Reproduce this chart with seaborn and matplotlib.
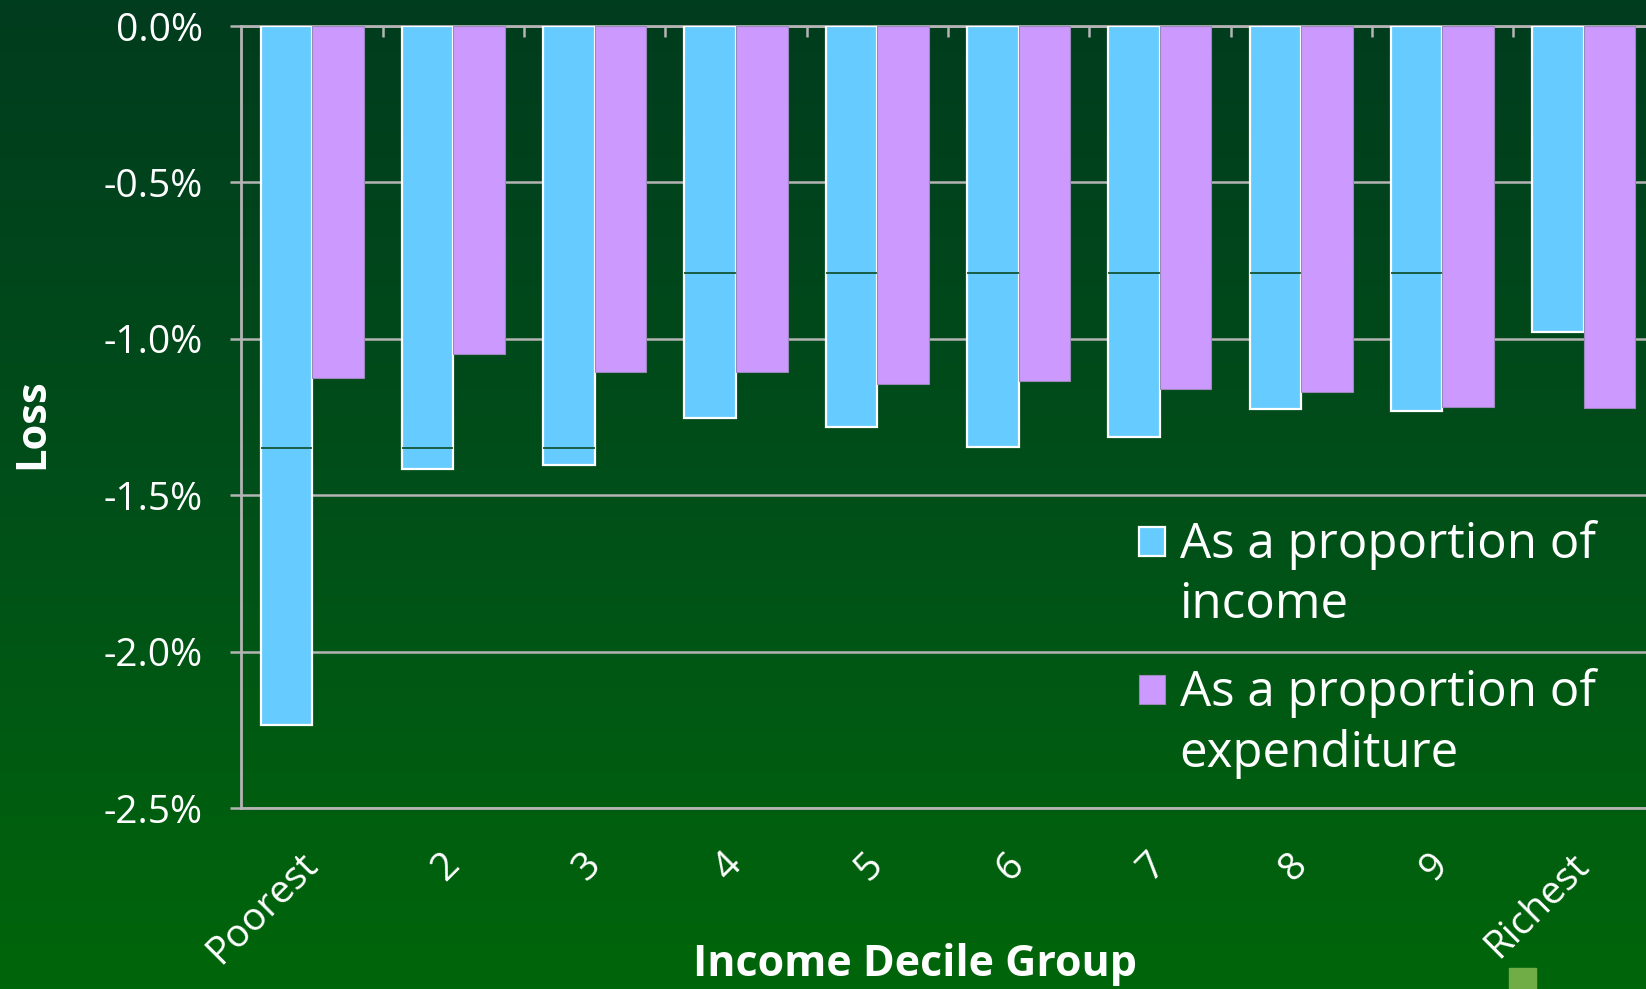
import numpy as np
import pandas as pd
import matplotlib
matplotlib.use("Agg")
import matplotlib.pyplot as plt
from matplotlib.patches import Rectangle
from matplotlib.colors import LinearSegmentedColormap
from matplotlib.legend_handler import HandlerPatch
import seaborn as sns

# values (percent loss)
deciles = ["Poorest", "2", "3", "4", "5", "6", "7", "8", "9", "Richest"]
loss_income = [-2.235, -1.416, -1.403, -1.252, -1.282, -1.346, -1.315, -1.225, -1.232, -0.977]
loss_expend = [-1.124, -1.050, -1.107, -1.107, -1.144, -1.134, -1.161, -1.171, -1.218, -1.221]
# faint marks seen inside the income bars
income_marks = [-1.35, -1.35, -1.35, -0.79, -0.79, -0.79, -0.79, -0.79, -0.79, np.nan]
series_names = ["As a proportion of\nincome", "As a proportion of\nexpenditure"]
y_ticks = [0.0, -0.5, -1.0, -1.5, -2.0, -2.5]

df = pd.DataFrame({
    "decile": deciles * 2,
    "loss": loss_income + loss_expend,
    "measure": [series_names[0]] * len(deciles) + [series_names[1]] * len(deciles),
})

sns.set_style("white")
plt.rcParams["font.family"] = ["Open Sans", "DejaVu Sans"]

fig = plt.figure(figsize=(16.46, 9.89), dpi=100)

# gradient background
bg = fig.add_axes([0, 0, 1, 1], zorder=0)
cmap = LinearSegmentedColormap.from_list("bg", ["#003c1e", "#004f19", "#00660a"])
bg.imshow(np.linspace(0, 1, 256).reshape(-1, 1), aspect="auto", cmap=cmap,
          extent=[0, 1, 0, 1])
bg.axis("off")
fig.patches.append(Rectangle((1509 / 1646, 0), 27 / 1646, 21 / 989,
                             transform=fig.transFigure, color="#70ad47", zorder=1))

ax = fig.add_axes([0.1467, 0.183, 0.8584, 0.7907], zorder=2)
ax.set_facecolor("none")

sns.barplot(data=df, x="decile", y="loss", hue="measure",
            palette=["#66CCFF", "#CC99FF"], saturation=1, width=0.73,
            dodge=True, legend=False, ax=ax, zorder=3)

for bar in ax.containers[0]:
    bar.set_edgecolor("white")
    bar.set_linewidth(1.6)
for bar in ax.containers[1]:
    bar.set_edgecolor("#9a88b8")
    bar.set_linewidth(0.8)

for bar, lvl in zip(ax.containers[0], income_marks):
    if not np.isnan(lvl):
        ax.hlines(lvl, bar.get_x(), bar.get_x() + bar.get_width(),
                  color="#0b4a22", lw=1.2, zorder=4)

ax.set_xlim(-0.5, len(deciles) - 0.5)
ax.set_ylim(-2.5, 0)
ax.set_yticks(y_ticks)
ax.set_yticklabels([f"{t:.1f}%" for t in y_ticks])
ax.yaxis.grid(True, color="#b4b4b4", lw=1.8)
ax.set_axisbelow(True)

grey = "#b4b4b4"
for side in ["left", "top", "bottom"]:
    ax.spines[side].set_color(grey)
    ax.spines[side].set_linewidth(2)
ax.spines["right"].set_visible(False)

ax.tick_params(axis="y", colors=grey, labelcolor="white", labelsize=28,
               length=8, width=1.8, pad=20, left=True)
ax.tick_params(axis="x", which="major", length=0, labelcolor="white",
               labelsize=28, pad=37)
ax.set_xticks(np.arange(0.5, len(deciles) - 0.5), minor=True)
ax.tick_params(axis="x", which="minor", top=True, bottom=False,
               direction="in", length=8, width=1.8, color=grey)
for lab in ax.get_xticklabels():
    lab.set_rotation(45)
    lab.set_ha("right")
    lab.set_va("center")
    lab.set_rotation_mode("anchor")

ax.set_xlabel("Income Decile Group", color="white", fontsize=31,
              fontweight="bold", va="center")
ax.xaxis.set_label_coords(0.4766, -0.1995)
ax.set_ylabel("Loss", color="white", fontsize=30, fontweight="bold", va="center")
ax.yaxis.set_label_coords(-0.1479, 0.492)

leg_size = 35.5
square_lift = 25.5  # points, puts the square beside the first text line


def first_line_square(legend, orig_handle, xdescent, ydescent, width, height, fontsize):
    return Rectangle((-xdescent, -ydescent + square_lift), width, height)


handles = [c.patches[0] for c in ax.containers]
leg = ax.legend(handles, series_names, loc="upper left",
                bbox_to_anchor=(0.635, 0.368), frameon=False, fontsize=leg_size,
                handlelength=0.53, handleheight=0.53, handletextpad=0.3,
                labelspacing=0.77, borderaxespad=0, borderpad=0,
                handler_map={h: HandlerPatch(patch_func=first_line_square)
                             for h in handles})
for t in leg.get_texts():
    t.set_color("white")
    t.set_linespacing(1.28)

fig.savefig("out.png", dpi=100)
